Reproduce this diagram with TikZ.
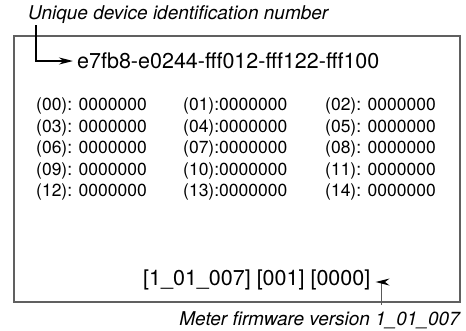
\documentclass[tikz,border=0pt]{standalone}
\usepackage{fontspec}
\setmainfont{TeX Gyre Heros}
\usetikzlibrary{arrows.meta}
\tikzset{
	reading/.style={anchor=west, inner sep=0, font=\fontsize{17.5}{18}\selectfont},
	bigreading/.style={reading, font=\fontsize{21.5}{22}\selectfont},
	callout/.style={inner sep=0, font=\fontsize{19}{20}\selectfont\itshape},
	pointer/.style={-{Stealth[length=14pt, width=7pt, black]}},
}
\begin{document}
\begin{tikzpicture}[x=1pt, y=-1pt]
		\useasboundingbox (0, 0) rectangle (466, 330);
		\draw[gray!75!black, line width=1.4pt] (14, 36) rectangle (460, 302);
		\node[callout, anchor=base west] (idlabel) at (28, 19) {Unique device identification number};
		\node[bigreading] (devid) at (77, 61) {e7fb8-e0244-fff012-fff122-fff100};
		\coordinate (idbend) at (36, 61);
		\draw[pointer, line width=1.6pt] ([yshift=-2pt]idlabel.south -| idbend) -- (idbend) -- ([xshift=-4pt]devid.west);
		\foreach \row in {0, ..., 4}
			\foreach \col/\x/\gap in {0/36/\space, 1/183/{}, 2/325/\space} {
				\pgfmathtruncatemacro{\reg}{3*\row + \col}
				\node[reading] (reg\reg) at (\x, {106 + 21.5*\row}) {(\ifnum\reg<10 0\fi\reg):\gap0000000};
			}
		\node[bigreading] (fwline) at (143, 280) {[1\_01\_007] [001] [0000]};
		\node[callout, anchor=base east] (fwlabel) at (460, 325) {Meter firmware version 1\_01\_007};
		\coordinate (fwbend) at (381, 282);
		\draw[pointer, gray!70!black, line width=1pt] ([yshift=6pt]fwlabel.north -| fwbend) -- (fwbend) -- ([xshift=5pt]fwline.east |- fwbend);
	\end{tikzpicture}
\end{document}
